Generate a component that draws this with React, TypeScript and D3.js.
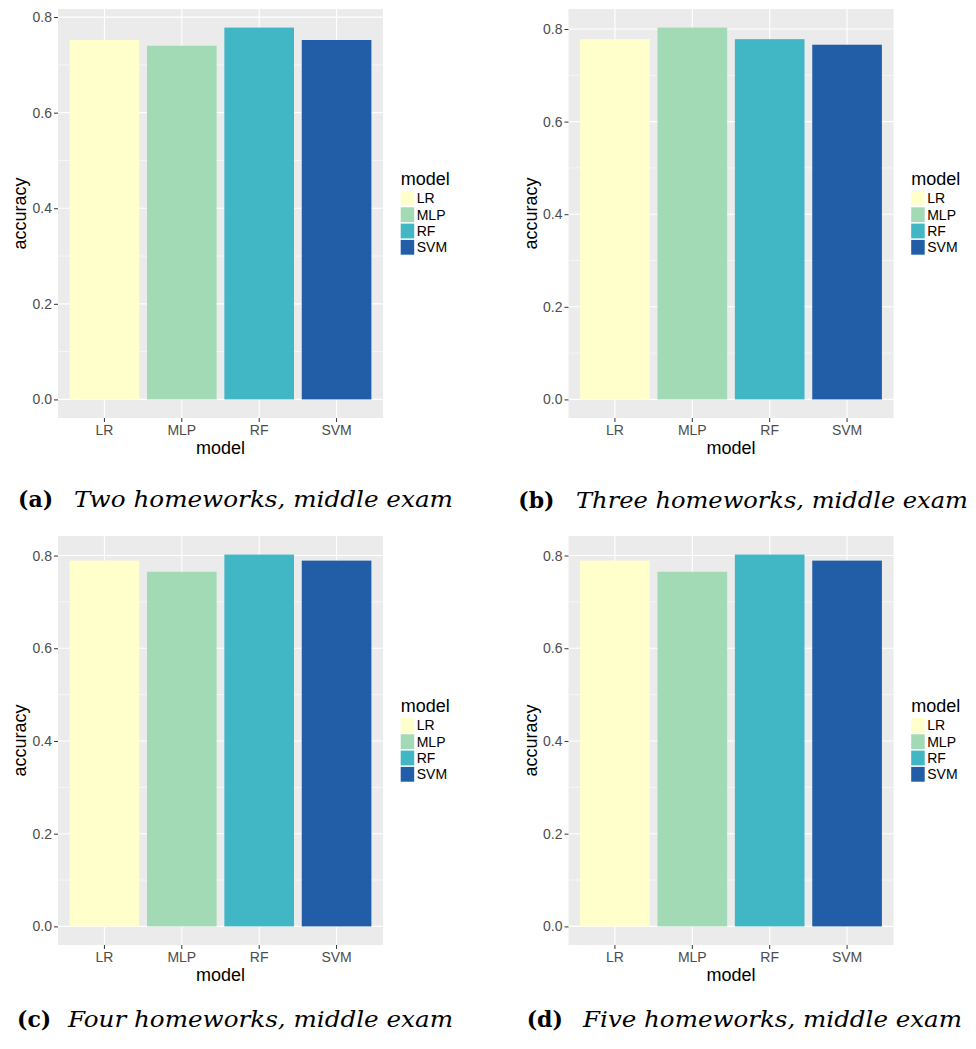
import { useEffect, useRef } from 'react';
import * as d3 from 'd3';

// model order + YlGnBu fills
const models = ['LR', 'MLP', 'RF', 'SVM'];
const modelColors = ['#FFFFCC', '#A1DAB4', '#41B6C4', '#225EA8'];

// accuracy per model, one array per sub-figure
const accTwoHw = [0.752, 0.740, 0.778, 0.752];
const accThreeHw = [0.778, 0.803, 0.778, 0.766];
const accFourHw = [0.789, 0.765, 0.802, 0.789];
const accFiveHw = [0.789, 0.765, 0.802, 0.789];

const yTicks = [0, 0.2, 0.4, 0.6, 0.8];
const yMinorTicks = [0.1, 0.3, 0.5, 0.7];

const tags = ['(a)', '(b)', '(c)', '(d)'];
const captions = [
  'Two homeworks, middle exam',
  'Three homeworks, middle exam',
  'Four homeworks, middle exam',
  'Five homeworks, middle exam',
];
const series = [accTwoHw, accThreeHw, accFourHw, accFiveHw];

// sub-figure placement (pixels)
const W = 976;
const H = 1049;
const cells = [
  { ox: 0, oy: 0, tagX: 18, capX: 74, capLen: 379, capY: 507 },
  { ox: 510.5, oy: 0, tagX: 7.8, capX: 65.5, capLen: 392, capY: 508 },
  { ox: 0, oy: 527, tagX: 17, capX: 68, capLen: 385, capY: 500 },
  { ox: 510.5, oy: 527, tagX: 16.2, capX: 72.5, capLen: 379, capY: 500 },
];
const panel = { left: 58, top: 9, width: 325, height: 409 };

const SANS = '"Liberation Sans", Arial, Helvetica, sans-serif';
const SERIF = '"DejaVu Serif", serif';

export default function App() {
  const svgRef = useRef<SVGSVGElement>(null);

  useEffect(() => {
    const svg = d3.select(svgRef.current);
    svg.selectAll('*').remove();

    series.forEach((values, i) => {
      const c = cells[i];
      const g = svg.append('g').attr('transform', `translate(${c.ox},${c.oy})`);

      const x = d3.scaleBand<string>()
        .domain(models)
        .range([panel.left, panel.left + panel.width])
        .paddingInner(0.1)
        .paddingOuter(0.15);

      const ymax = d3.max(values) as number;
      const y = d3.scaleLinear()
        .domain([-0.05 * ymax, 1.05 * ymax])
        .range([panel.top + panel.height, panel.top]);

      const color = d3.scaleOrdinal<string, string>().domain(models).range(modelColors);

      // panel background
      g.append('rect')
        .attr('x', panel.left).attr('y', panel.top)
        .attr('width', panel.width).attr('height', panel.height)
        .attr('fill', '#EBEBEB');

      // grid
      g.selectAll('.minor').data(yMinorTicks).enter().append('line')
        .attr('x1', panel.left).attr('x2', panel.left + panel.width)
        .attr('y1', d => y(d)).attr('y2', d => y(d))
        .attr('stroke', '#fff').attr('stroke-width', 0.55);
      g.selectAll('.major').data(yTicks).enter().append('line')
        .attr('x1', panel.left).attr('x2', panel.left + panel.width)
        .attr('y1', d => y(d)).attr('y2', d => y(d))
        .attr('stroke', '#fff').attr('stroke-width', 1.1);
      g.selectAll('.vgrid').data(models).enter().append('line')
        .attr('x1', d => x(d)! + x.bandwidth() / 2).attr('x2', d => x(d)! + x.bandwidth() / 2)
        .attr('y1', panel.top).attr('y2', panel.top + panel.height)
        .attr('stroke', '#fff').attr('stroke-width', 1.1);

      // bars
      g.selectAll('.bar').data(models).enter().append('rect')
        .attr('x', d => x(d)!)
        .attr('width', x.bandwidth())
        .attr('y', (d, j) => y(values[j]))
        .attr('height', (d, j) => y(0) - y(values[j]))
        .attr('fill', d => color(d));

      // y axis
      const yAxis = g.append('g')
        .attr('transform', `translate(${panel.left},0)`)
        .call(d3.axisLeft(y).tickValues(yTicks).tickFormat(d3.format('.1f')).tickSize(4).tickPadding(2));
      yAxis.select('.domain').remove();
      yAxis.selectAll('line').attr('stroke', '#333');
      yAxis.selectAll('text').attr('fill', '#4D4D4D').style('font-size', '14px').style('font-family', SANS);

      // x axis
      const xAxis = g.append('g')
        .attr('transform', `translate(0,${panel.top + panel.height})`)
        .call(d3.axisBottom(x).tickSize(4).tickPadding(3));
      xAxis.select('.domain').remove();
      xAxis.selectAll('line').attr('stroke', '#333');
      xAxis.selectAll('text').attr('fill', '#4D4D4D').style('font-size', '14px').style('font-family', SANS);

      // axis titles
      g.append('text')
        .attr('x', panel.left + panel.width / 2)
        .attr('y', panel.top + panel.height + 36)
        .attr('text-anchor', 'middle')
        .style('font-family', SANS).style('font-size', '18px')
        .attr('fill', '#000')
        .text('model');
      g.append('text')
        .attr('transform', `translate(26,${panel.top + panel.height / 2}) rotate(-90)`)
        .attr('text-anchor', 'middle')
        .style('font-family', SANS).style('font-size', '18px')
        .attr('fill', '#000')
        .text('accuracy');

      // legend
      const lx = panel.left + panel.width + 17.7;
      const leg = g.append('g');
      leg.append('text')
        .attr('x', lx).attr('y', panel.top + 176)
        .style('font-family', SANS).style('font-size', '18px')
        .text('model');
      const rows = leg.selectAll('.key').data(models).enter().append('g')
        .attr('transform', (d, j) => `translate(${lx},${panel.top + 182 + j * 16.3})`);
      rows.append('rect')
        .attr('width', 13.5).attr('height', 14.8)
        .attr('fill', d => color(d));
      rows.append('text')
        .attr('x', 16).attr('y', 7.4).attr('dy', '0.35em')
        .style('font-family', SANS).style('font-size', '14px')
        .attr('fill', '#000')
        .text(d => d);

      // caption
      g.append('text')
        .attr('x', c.tagX).attr('y', c.capY)
        .style('font-family', SERIF).style('font-size', '22px').style('font-weight', 'bold')
        .text(tags[i]);
      g.append('text')
        .attr('x', c.capX).attr('y', c.capY)
        .attr('textLength', c.capLen).attr('lengthAdjust', 'spacingAndGlyphs')
        .style('font-family', SERIF).style('font-size', '22px').style('font-style', 'italic')
        .text(captions[i]);
    });
  }, []);

  return (
    <svg
      ref={svgRef}
      width={W}
      height={H}
      style={{ position: 'absolute', left: 0, top: 0, background: '#fff' }}
    />
  );
}
